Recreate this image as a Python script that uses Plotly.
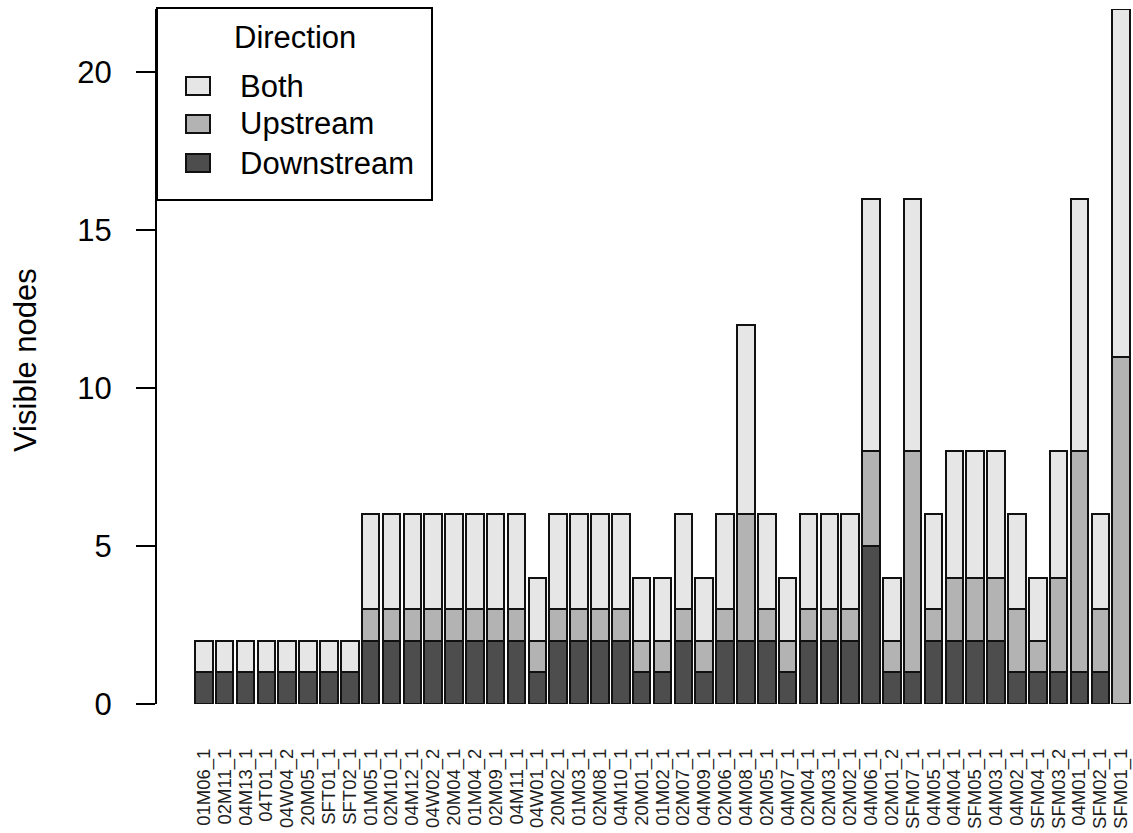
import plotly.graph_objects as go

categories = ["01M06_1", "02M11_1", "04M13_1", "04T01_1", "04W04_2", "20M05_1", "SFT01_1", "SFT02_1",
              "01M05_1", "02M10_1", "04M12_1", "04W02_2", "20M04_1", "01M04_2", "02M09_1", "04M11_1",
              "04W01_1", "20M02_1", "01M03_1", "02M08_1", "04M10_1", "20M01_1", "01M02_1", "02M07_1",
              "04M09_1", "02M06_1", "04M08_1", "02M05_1", "04M07_1", "02M04_1", "02M03_1", "02M02_1",
              "04M06_1", "02M01_2", "SFM07_1", "04M05_1", "04M04_1", "SFM05_1", "04M03_1", "04M02_1",
              "SFM04_1", "SFM03_2", "04M01_1", "SFM02_1", "SFM01_1"]

downstream = [1, 1, 1, 1, 1, 1, 1, 1,
              2, 2, 2, 2, 2, 2, 2, 2,
              1, 2, 2, 2, 2, 1, 1, 2,
              1, 2, 2, 2, 1, 2, 2, 2,
              5, 1, 1, 2, 2, 2, 2, 1,
              1, 1, 1, 1, 0]
upstream = [0, 0, 0, 0, 0, 0, 0, 0,
            1, 1, 1, 1, 1, 1, 1, 1,
            1, 1, 1, 1, 1, 1, 1, 1,
            1, 1, 4, 1, 1, 1, 1, 1,
            3, 1, 7, 1, 2, 2, 2, 2,
            1, 3, 7, 2, 11]
both = [1, 1, 1, 1, 1, 1, 1, 1,
        3, 3, 3, 3, 3, 3, 3, 3,
        2, 3, 3, 3, 3, 2, 2, 3,
        2, 3, 6, 3, 2, 3, 3, 3,
        8, 2, 8, 3, 4, 4, 4, 3,
        2, 4, 8, 3, 11]

series_names = ["Downstream", "Upstream", "Both"]
series_values = [downstream, upstream, both]
series_colors = ["#4D4D4D", "#B3B3B3", "#E6E6E6"]

y_ticks = [0, 5, 10, 15, 20]

FONT = "Liberation Sans, Arial, sans-serif"
W, H = 1133, 833
L, R, T, B = 157, 1133, 9, 704
PW, PH = R - L, B - T

def px(x):
    return (x - L) / PW

def py(y):
    return (B - y) / PH

fig = go.Figure()
for name, vals, col in zip(series_names, series_values, series_colors):
    fig.add_trace(go.Bar(
        x=list(range(len(categories))), y=vals, name=name,
        marker=dict(color=col, line=dict(color="#111111", width=2)),
        cliponaxis=False, showlegend=False,
    ))

step = 20.85
x0 = -(203.8 - L) / step
x1 = x0 + PW / step

fig.update_layout(
    width=W, height=H,
    margin=dict(l=L, r=W - R, t=T, b=H - B),
    paper_bgcolor="white", plot_bgcolor="white",
    barmode="stack", bargap=0.16,
    font=dict(family=FONT, color="#000000", size=31),
    xaxis=dict(
        range=[x0, x1], tickmode="array",
        tickvals=list(range(len(categories))), ticktext=categories,
        tickangle=-90, tickfont=dict(family=FONT, size=18.5, color="#1e1e1e"),
        showline=False, showgrid=False, zeroline=False, ticks="",
        ticklabelstandoff=40, automargin=False,
    ),
    yaxis=dict(
        range=[0, 22], tickmode="array", tickvals=y_ticks,
        ticktext=[str(v) for v in y_ticks],
        showline=True, linecolor="#000000", linewidth=2,
        ticks="outside", ticklen=19, tickwidth=2, tickcolor="#000000",
        showgrid=False, zeroline=False, ticklabelstandoff=18,
        tickfont=dict(size=31), automargin=False,
    ),
    showlegend=False,
)

# y-axis title
fig.add_annotation(x=px(25), y=py(360), xref="paper", yref="paper",
                   text="Visible nodes", textangle=-90, showarrow=False,
                   font=dict(size=31), xanchor="center", yanchor="middle")

# legend box
fig.add_shape(type="rect", xref="paper", yref="paper",
              x0=px(157), x1=px(432), y0=py(200), y1=py(8),
              line=dict(color="#000000", width=2), fillcolor="white", layer="above")
fig.add_annotation(x=px(295), y=py(37), xref="paper", yref="paper", text="Direction",
                   showarrow=False, font=dict(size=31), xanchor="center", yanchor="middle")
legend_items = [("Both", "#E6E6E6", 86), ("Upstream", "#B3B3B3", 124), ("Downstream", "#4D4D4D", 163)]
for label, col, yc in legend_items:
    fig.add_shape(type="rect", xref="paper", yref="paper",
                  x0=px(186), x1=px(210), y0=py(yc + 9), y1=py(yc - 9),
                  line=dict(color="#111111", width=2), fillcolor=col, layer="above")
    fig.add_annotation(x=px(238), y=py(yc), xref="paper", yref="paper", text=label,
                       showarrow=False, font=dict(size=31), xanchor="left", yanchor="middle")

fig.write_html("out.html", config={"displayModeBar": False},
               post_script="document.body.style.margin='0';document.body.style.overflow='hidden';")
